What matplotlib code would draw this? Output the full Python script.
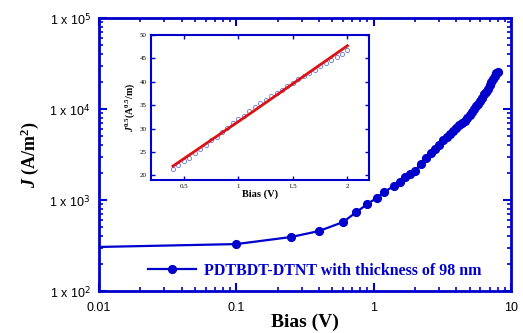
import numpy as np
import matplotlib.pyplot as plt
from matplotlib.ticker import FixedLocator, FuncFormatter, LogLocator, NullFormatter

plt.rcParams["mathtext.fontset"] = "custom"
plt.rcParams["mathtext.rm"] = "Liberation Serif:bold"
plt.rcParams["mathtext.it"] = "Liberation Serif:italic:bold"
plt.rcParams["mathtext.bf"] = "Liberation Serif:bold"

# main J-V curve (log-log)
bias = [0.01, 0.1, 0.25, 0.4, 0.6, 0.75, 0.9, 1.05, 1.2, 1.4, 1.55, 1.7, 1.85,
        2.0, 2.2, 2.4, 2.6, 2.8, 3.0, 3.2, 3.4, 3.6, 3.8, 4.0, 4.2, 4.4, 4.6,
        4.8, 5.0, 5.2, 5.4, 5.6, 5.8, 6.0, 6.2, 6.4, 6.6, 6.8, 7.0, 7.2, 7.4,
        7.6, 7.8, 8.0]
J = [305, 328, 392, 456, 573, 738, 903, 1052, 1225, 1426, 1578, 1790, 1950,
     2090, 2510, 2880, 3310, 3630, 4070, 4520, 4950, 5370, 5750, 6170, 6610,
     7000, 7410, 7940, 8610, 9330, 10000, 10720, 11480, 12300, 13340, 14450,
     15490, 16790, 18200, 19820, 21380, 22910, 24550, 25700]

# inset: J^0.5 vs bias
bias_in = [0.4, 0.45, 0.5, 0.55, 0.6, 0.65, 0.7, 0.75, 0.8, 0.85, 0.9, 0.95,
           1.0, 1.05, 1.1, 1.15, 1.2, 1.25, 1.3, 1.35, 1.4, 1.45, 1.5, 1.55,
           1.6, 1.65, 1.7, 1.75, 1.8, 1.85, 1.9, 1.95, 2.0]
sqrtJ = [21.3, 22.2, 23.0, 23.8, 24.7, 25.7, 26.6, 27.5, 28.3, 29.3, 30.2, 31.2,
         32.0, 32.7, 33.7, 34.6, 35.4, 36.2, 36.9, 37.6, 38.3, 39.1, 39.8, 40.5,
         41.2, 41.9, 42.6, 43.3, 44.0, 44.6, 45.3, 46.0, 46.8]
fit_x = [0.4, 1.1, 2.0]
fit_y = [22.0, 33.1, 47.7]

blue = "#0000cc"
legend_txt = "PDTBDT-DTNT with thickness of 98 nm"

fig = plt.figure(figsize=(5.23, 3.33), dpi=100)
ax = fig.add_axes([0.189, 0.126, 0.788, 0.82])

ax.plot(bias, J, color=blue, lw=1.6, marker="o", ms=5.6,
        markevery=list(range(1, len(bias))), label=legend_txt)
ax.set_xscale("log")
ax.set_yscale("log")
ax.set_xlim(0.01, 10)
ax.set_ylim(100, 1e5)

for s in ax.spines.values():
    s.set_color(blue)
    s.set_linewidth(2)
ax.tick_params(which="both", direction="in", top=True, right=True, color=blue)
ax.tick_params(which="major", length=6, width=1.5)
ax.tick_params(which="minor", length=3, width=1.2)
ax.tick_params(axis="y", pad=6)
ax.tick_params(axis="x", pad=8)
ax.yaxis.set_minor_locator(LogLocator(base=10, subs=np.arange(2, 10)))
ax.xaxis.set_minor_locator(LogLocator(base=10, subs=np.arange(2, 10)))
ax.yaxis.set_minor_formatter(NullFormatter())
ax.xaxis.set_minor_formatter(NullFormatter())
ax.yaxis.set_major_formatter(FuncFormatter(lambda v, p: "1 x 10$^{\\mathsf{%d}}$" % round(np.log10(v))))
ax.xaxis.set_major_formatter(FuncFormatter(lambda v, p: "%g" % v))
for lab in ax.get_xticklabels() + ax.get_yticklabels():
    lab.set_fontfamily("Liberation Sans")
    lab.set_fontsize(9)

ax.set_xlabel("Bias (V)", fontfamily="Liberation Serif", fontweight="bold",
              fontsize=14, labelpad=0)
ax.set_ylabel(r"$J$ (A/m$^2$)", fontfamily="Liberation Serif",
              fontweight="bold", fontsize=13, labelpad=6)

leg = ax.legend(loc="lower left", bbox_to_anchor=(0.085, -0.008), frameon=False,
                handlelength=3.0, handletextpad=0.5,
                prop={"family": "Liberation Serif", "weight": "bold", "size": 11.5})
for t in leg.get_texts():
    t.set_color(blue)

# inset
ins = fig.add_axes([0.289, 0.459, 0.417, 0.436])
ins.plot(bias_in, sqrtJ, ls="none", marker="o", ms=3, mfc="none", mec="#6677dd", mew=0.6)
ins.plot(fit_x, fit_y, color="#dd1111", lw=2)
ins.set_xlim(0.2, 2.2)
ins.set_ylim(19, 50)
ins.xaxis.set_major_locator(FixedLocator([0.5, 1, 1.5, 2]))
ins.yaxis.set_major_locator(FixedLocator([20, 25, 30, 35, 40, 45, 50]))
ins.xaxis.set_major_formatter(FuncFormatter(lambda v, p: "%g" % v))
for s in ins.spines.values():
    s.set_color(blue)
    s.set_linewidth(1.5)
ins.tick_params(direction="in", top=True, right=True, color=blue, length=3,
                width=1, labelsize=5, pad=3)
for lab in ins.get_xticklabels() + ins.get_yticklabels():
    lab.set_fontfamily("Liberation Serif")
ins.set_xlabel("Bias (V)", fontfamily="Liberation Serif", fontweight="bold",
               fontsize=7.5, labelpad=0)
ins.set_ylabel(r"$J^{0.5}$(A$^{0.5}$/m)", fontfamily="Liberation Serif",
               fontweight="bold", fontsize=7, labelpad=2)

fig.savefig("out.png", dpi=100)
